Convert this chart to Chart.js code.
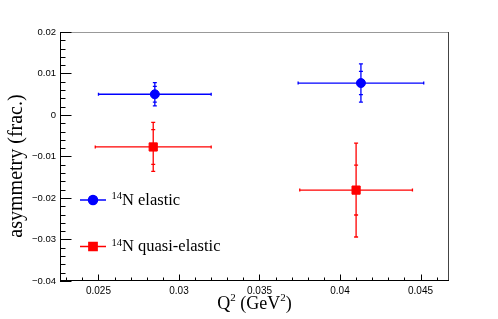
<!DOCTYPE html>
<html><head><meta charset="utf-8">
<script src="https://cdn.jsdelivr.net/npm/chart.js@4.4.1/dist/chart.umd.min.js"></script>
<style>html,body{margin:0;padding:0;background:#fff;}#wrap{width:498px;height:319px;}</style>
</head><body><div id="wrap"><canvas id="c" width="498" height="319"></canvas></div>
<script>
// ---- data ----
const legendIsotope = "14";
const seriesLabels = ["N elastic", "N quasi-elastic"];
const elasticQ2 = [0.0285, 0.0413];
const elasticQ2Err = [0.0035, 0.0039];
const elasticAsym = [0.0050, 0.0077];
const elasticStatErr = [0.0019, 0.0028];
const elasticTotErr = [0.0028, 0.0046];
const quasiQ2 = [0.0284, 0.0410];
const quasiQ2Err = [0.0036, 0.0035];
const quasiAsym = [-0.0077, -0.0181];
const quasiStatErr = [0.0042, 0.0060];
const quasiTotErr = [0.0059, 0.0113];
const xTicks = [0.025, 0.03, 0.035, 0.04, 0.045];
const xTickLabels = ["0.025", "0.03", "0.035", "0.04", "0.045"];
const yTicks = [-0.04, -0.03, -0.02, -0.01, 0, 0.01, 0.02];
const yTickLabels = ["\u22120.04", "\u22120.03", "\u22120.02", "\u22120.01", "0", "0.01", "0.02"];
const xTitleParts = [["Q", false], ["2", true], [" (GeV", false], ["2", true], [")", false]];
const yTitle = "asymmetry (frac.)";

const blue = "#0000ff", red = "#ff0000";
const serif = "'Liberation Serif', 'Times New Roman', serif";
const sans = "'Liberation Sans', Arial, sans-serif";

const errs = [
  {q: elasticQ2, qe: elasticQ2Err, a: elasticAsym, s: elasticStatErr, t: elasticTotErr, color: blue},
  {q: quasiQ2, qe: quasiQ2Err, a: quasiAsym, s: quasiStatErr, t: quasiTotErr, color: red}
];

const rootPlugin = {
  id: 'rootPlugin',
  beforeDatasetsDraw(chart) {
    const ctx = chart.ctx, xs = chart.scales.x, ys = chart.scales.y;
    ctx.save();
    ctx.lineWidth = 1.3;
    errs.forEach(e => {
      ctx.strokeStyle = e.color;
      for (let i = 0; i < e.q.length; i++) {
        const xc = xs.getPixelForValue(e.q[i]);
        const yc = ys.getPixelForValue(e.a[i]);
        const xl = xs.getPixelForValue(e.q[i] - e.qe[i]);
        const xr = xs.getPixelForValue(e.q[i] + e.qe[i]);
        const yt = ys.getPixelForValue(e.a[i] + e.t[i]);
        const yb = ys.getPixelForValue(e.a[i] - e.t[i]);
        const st = ys.getPixelForValue(e.a[i] + e.s[i]);
        const sb = ys.getPixelForValue(e.a[i] - e.s[i]);
        ctx.beginPath();
        ctx.moveTo(xl, yc); ctx.lineTo(xr, yc);
        ctx.moveTo(xl, yc - 1.5); ctx.lineTo(xl, yc + 1.5);
        ctx.moveTo(xr, yc - 1.5); ctx.lineTo(xr, yc + 1.5);
        ctx.moveTo(xc, yt); ctx.lineTo(xc, yb);
        [yt, yb, st, sb].forEach(y => { ctx.moveTo(xc - 2, y); ctx.lineTo(xc + 2, y); });
        ctx.stroke();
      }
    });
    ctx.restore();
  },
  afterDraw(chart) {
    const ctx = chart.ctx, xs = chart.scales.x, ys = chart.scales.y;
    const a = chart.chartArea;
    ctx.save();
    // frame
    ctx.lineWidth = 1;
    ctx.strokeStyle = '#999';
    ctx.beginPath(); ctx.moveTo(a.left, a.top + 0.5); ctx.lineTo(a.right, a.top + 0.5); ctx.stroke();
    ctx.strokeStyle = '#444';
    ctx.beginPath(); ctx.moveTo(a.right - 0.5, a.top); ctx.lineTo(a.right - 0.5, a.bottom); ctx.stroke();
    ctx.strokeStyle = '#000';
    ctx.beginPath();
    ctx.moveTo(a.left + 0.5, a.top); ctx.lineTo(a.left + 0.5, a.bottom);
    ctx.moveTo(a.left, a.bottom - 0.5); ctx.lineTo(a.right, a.bottom - 0.5);
    // y ticks (inward)
    const yStep = (yTicks[1] - yTicks[0]) / 5;
    for (let k = 0; k <= (yTicks.length - 1) * 5; k++) {
      const v = yTicks[0] + k * yStep;
      const y = Math.round(ys.getPixelForValue(v)) + 0.5;
      const len = (k % 5 === 0) ? 11.5 : 5.5;
      ctx.moveTo(a.left, y); ctx.lineTo(a.left + len, y);
    }
    // x ticks (inward)
    const xStep = (xTicks[1] - xTicks[0]) / 5;
    for (let k = -5; k <= (xTicks.length) * 5; k++) {
      const v = xTicks[0] + k * xStep;
      if (v < xs.min || v > xs.max) continue;
      const x = Math.round(xs.getPixelForValue(v)) + 0.5;
      const len = (k % 5 === 0) ? 6.5 : 3.5;
      ctx.moveTo(x, a.bottom); ctx.lineTo(x, a.bottom - len);
    }
    ctx.stroke();

    ctx.fillStyle = '#000';
    // x title
    const big = '18px ' + serif, small = '11px ' + serif;
    let w = 0;
    xTitleParts.forEach(p => { ctx.font = p[1] ? small : big; w += ctx.measureText(p[0]).width; });
    let x = (a.left + a.right) / 2 - w / 2;
    const yb = 308.5;
    ctx.textBaseline = 'alphabetic'; ctx.textAlign = 'left';
    xTitleParts.forEach(p => {
      ctx.font = p[1] ? small : big;
      ctx.fillText(p[0], x, p[1] ? yb - 7.5 : yb);
      x += ctx.measureText(p[0]).width;
    });
    // y title
    ctx.save();
    ctx.translate(22, 166);
    ctx.rotate(-Math.PI / 2);
    ctx.font = '20px ' + serif;
    ctx.textAlign = 'center';
    ctx.fillText(yTitle, 0, 0);
    ctx.restore();

    // legend
    const legendY = [200, 246.5];
    const styles = [{pointStyle: 'circle', radius: 4.5, color: blue}, {pointStyle: 'rect', radius: 5.8, color: red}];
    legendY.forEach((ly, i) => {
      const st = styles[i];
      ctx.strokeStyle = st.color; ctx.fillStyle = st.color; ctx.lineWidth = 1.5;
      ctx.beginPath(); ctx.moveTo(80, ly); ctx.lineTo(106, ly); ctx.stroke();
      Chart.helpers.drawPoint(ctx, {pointStyle: st.pointStyle, radius: st.radius, borderWidth: 1, rotation: 0}, 93, ly);
      ctx.fill();
      ctx.fillStyle = '#000';
      ctx.font = '10.5px ' + serif;
      ctx.textAlign = 'left';
      ctx.fillText(legendIsotope, 111.5, ly - 1);
      const sw = ctx.measureText(legendIsotope).width;
      ctx.font = '16.5px ' + serif;
      ctx.fillText(seriesLabels[i], 111.5 + sw, ly + 4.5);
    });
    ctx.restore();
  }
};

const data = {
  datasets: [
    {
      label: legendIsotope + seriesLabels[0],
      data: elasticQ2.map((q, i) => ({x: q, y: elasticAsym[i]})),
      pointStyle: 'circle', pointRadius: 4.5, backgroundColor: blue, borderColor: blue, borderWidth: 1, showLine: false
    },
    {
      label: legendIsotope + seriesLabels[1],
      data: quasiQ2.map((q, i) => ({x: q, y: quasiAsym[i]})),
      pointStyle: 'rect', pointRadius: 5.8, backgroundColor: red, borderColor: red, borderWidth: 1, showLine: false
    }
  ]
};

new Chart(document.getElementById('c'), {
  type: 'scatter',
  data,
  plugins: [rootPlugin],
  options: {
    responsive: false, animation: false, devicePixelRatio: 1,
    layout: {padding: {left: 0, top: 32, right: 49, bottom: 0}},
    plugins: {legend: {display: false}, tooltip: {enabled: false}},
    scales: {
      x: {
        type: 'linear', min: 0.02261, max: 0.04677,
        afterBuildTicks: s => { s.ticks = xTicks.map(v => ({value: v})); },
        afterFit: s => { s.height = 38; },
        grid: {display: false, drawTicks: false}, border: {display: false},
        ticks: {callback: (v, i) => xTickLabels[i], color: '#000', font: {family: sans, size: 10}, padding: 4, maxRotation: 0, autoSkip: false}
      },
      y: {
        type: 'linear', min: -0.04, max: 0.02,
        afterBuildTicks: s => { s.ticks = yTicks.map(v => ({value: v})); },
        afterFit: s => { s.width = 60; },
        grid: {display: false, drawTicks: false}, border: {display: false},
        ticks: {callback: (v, i) => yTickLabels[i], color: '#000', font: {family: sans, size: 9.5}, padding: 4, autoSkip: false}
      }
    }
  }
});
</script>
</body></html>
